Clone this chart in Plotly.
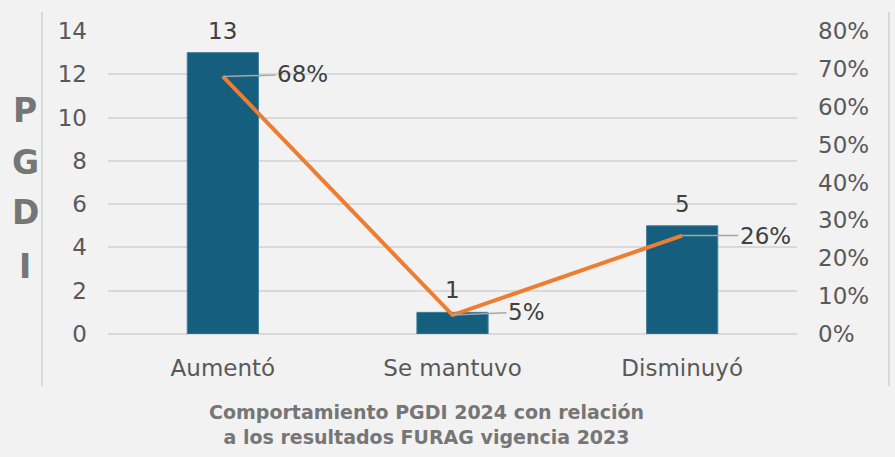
import plotly.graph_objects as go

categories = ["Aumentó", "Se mantuvo", "Disminuyó"]
counts = [13, 1, 5]
percents = [0.68, 0.05, 0.26]
pct_labels = ["68%", "5%", "26%"]
left_ticks = [0, 2, 4, 6, 8, 10, 12, 14]
right_ticks = [0, 0.1, 0.2, 0.3, 0.4, 0.5, 0.6, 0.7, 0.8]
right_tick_labels = ["0%", "10%", "20%", "30%", "40%", "50%", "60%", "70%", "80%"]
axis_letters = ["P", "G", "D", "I"]
title_text = "Comportamiento PGDI 2024 con relación<br>a los resultados FURAG vigencia 2023"

FONT = "DejaVu Sans"
TICK_COLOR = "#595959"
GRID = "#D9D9D9"
FS = 23

fig = go.Figure()
fig.add_trace(go.Bar(
    x=categories, y=counts, marker=dict(color="#165E7E", line=dict(color="#3F7F9C", width=1)),
    width=0.31, yaxis="y", showlegend=False, hoverinfo="skip",
))
fig.add_trace(go.Scatter(
    x=categories, y=percents, mode="lines", line=dict(color="#ED7D31", width=4),
    yaxis="y2", showlegend=False, hoverinfo="skip",
))

annotations = []
for c, v in zip(categories, counts):
    annotations.append(dict(
        x=c, y=v, xref="x", yref="y", text=str(v), showarrow=False,
        yanchor="middle", yshift=22, font=dict(family=FONT, size=FS, color="#404040"),
    ))
offsets = [(80, -2), (74, -3), (83, 0)]
for c, v, t, (ax, ay) in zip(categories, percents, pct_labels, offsets):
    annotations.append(dict(
        x=c, y=v, xref="x", yref="y2", text=t, showarrow=True,
        arrowhead=0, arrowwidth=1.5, arrowcolor="#A6A6A6", ax=ax, ay=ay,
        standoff=0, font=dict(family=FONT, size=FS, color="#404040"),
    ))
letter_y = [110, 162, 213, 266]
for L, py in zip(axis_letters, letter_y):
    annotations.append(dict(
        x=(25 - 108) / 689, y=(334 - py) / 303, xref="paper", yref="paper",
        text=f"<b>{L}</b>", showarrow=False, xanchor="center", yanchor="middle",
        font=dict(family=FONT, size=33, color="#767676"),
    ))
annotations.append(dict(
    x=(426 - 108) / 689, y=(334 - 424) / 303, xref="paper", yref="paper",
    text=f"<b>{title_text}</b>", showarrow=False, xanchor="center", yanchor="middle",
    font=dict(family=FONT, size=19, color="#767676"),
))

shapes = []
for px in (42, 889):
    xp = (px - 108) / 689
    shapes.append(dict(type="line", xref="paper", yref="paper", x0=xp, x1=xp,
                       y0=(334 - 12) / 303, y1=(334 - 386) / 303,
                       line=dict(color=GRID, width=2)))

fig.update_layout(
    width=895, height=457, autosize=False,
    margin=dict(l=108, r=98, t=31, b=123),
    paper_bgcolor="#F2F2F2", plot_bgcolor="#F2F2F2",
    font=dict(family=FONT, color=TICK_COLOR, size=FS),
    xaxis=dict(showgrid=False, showline=False, ticks="", tickfont=dict(size=FS, color=TICK_COLOR),
               ticklabelstandoff=18),
    yaxis=dict(range=[0, 14], tickvals=left_ticks, showgrid=True, gridcolor=GRID, gridwidth=2,
               zeroline=True, zerolinecolor=GRID, zerolinewidth=2, ticks="",
               tickfont=dict(size=FS, color=TICK_COLOR), ticklabelstandoff=20),
    yaxis2=dict(range=[0, 0.8], tickvals=right_ticks, ticktext=right_tick_labels,
                overlaying="y", side="right", showgrid=False, zeroline=False, ticks="",
                tickfont=dict(size=FS, color=TICK_COLOR), ticklabelstandoff=20),
    annotations=annotations, shapes=shapes, bargap=0.69,
)

fig.write_html(
    "out.html",
    config={"displayModeBar": False},
    post_script="document.body.style.margin='0';document.body.style.overflow='hidden';document.body.style.background='#F2F2F2';",
)
